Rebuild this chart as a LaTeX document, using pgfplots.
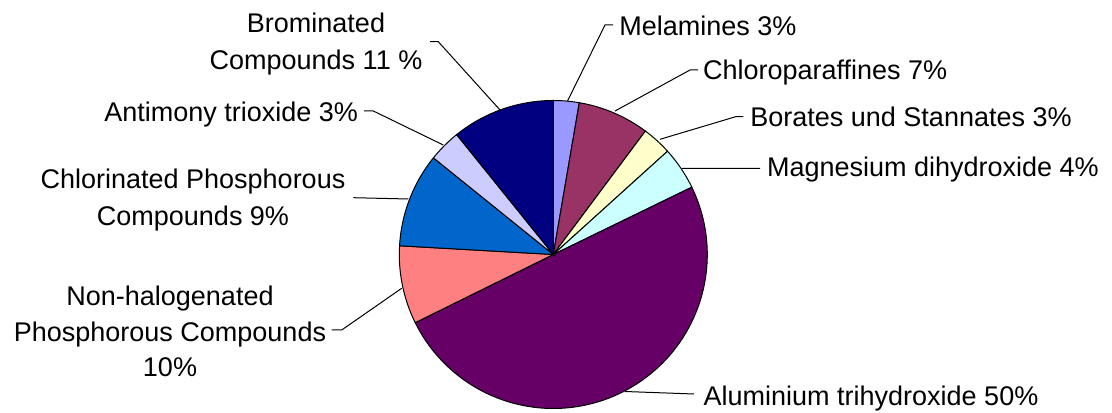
\documentclass[border=0pt]{standalone}
\usepackage{pgfplots}
\usepackage{pgfplotstable}
\pgfplotsset{compat=1.18}
\usepackage{fontspec}
\setmainfont{Liberation Sans}

\definecolor{c0}{HTML}{9999FF}
\definecolor{c1}{HTML}{993366}
\definecolor{c2}{HTML}{FFFFCC}
\definecolor{c3}{HTML}{CCFFFF}
\definecolor{c4}{HTML}{660066}
\definecolor{c5}{HTML}{FF8080}
\definecolor{c6}{HTML}{0066CC}
\definecolor{c7}{HTML}{CCCCFF}
\definecolor{c8}{HTML}{000080}

% slice shares (percent), clockwise from 12 o'clock
\pgfplotstableread{
label value
Melamines 2.7
Chloroparaffines 7.5
Borates 3.1
Magnesium 4.5
Aluminium 49.9
NonHalogenated 8.2
Chlorinated 9.9
Antimony 3.4
Brominated 10.8
}\piedata

\begin{document}
\def\cum{0}%
\pgfplotsforeachungrouped \i in {0,...,8}{%
  \pgfplotstablegetelem{\i}{value}\of\piedata
  \pgfmathsetmacro\st{90-3.6*\cum}%
  \pgfmathsetmacro\cum{\cum+\pgfplotsretval}%
  \pgfmathsetmacro\en{90-3.6*\cum}%
  \expandafter\xdef\csname pieS\i\endcsname{\st}%
  \expandafter\xdef\csname pieE\i\endcsname{\en}%
}%
\begin{tikzpicture}[font=\fontsize{13.5pt}{16pt}\selectfont]
\begin{axis}[scale only axis, width=556pt, height=206pt,
  xmin=0, xmax=1112, ymin=0, ymax=412, hide axis, clip=false]
\pgfplotsinvokeforeach{0,...,8}{
  \addplot[draw=black, line width=0.5pt, fill=c#1, mark=none,
    domain=\csname pieE#1\endcsname:\csname pieS#1\endcsname, samples=90]
    ({553.3+154*cos(x)},{157.5+154*sin(x)}) -- (553.3,157.5) -- cycle;
}
% leader lines
\addplot[black, line width=0.5pt, mark=none] coordinates {(567.5,311) (605,387) (613,387)};
\addplot[black, line width=0.5pt, mark=none] coordinates {(615,301) (690,342) (698,342)};
\addplot[black, line width=0.5pt, mark=none] coordinates {(660,272.7) (735.7,295.3) (743.3,295.3)};
\addplot[black, line width=0.5pt, mark=none] coordinates {(682,243.5) (760,243.7)};
\addplot[black, line width=0.5pt, mark=none] coordinates {(625,20.5) (694,18)};
\addplot[black, line width=0.5pt, mark=none] coordinates {(401.7,123.7) (341.7,82) (331.7,82)};
\addplot[black, line width=0.5pt, mark=none] coordinates {(408.3,213) (353.3,214.3)};
\addplot[black, line width=0.5pt, mark=none] coordinates {(443.3,267) (373.3,301) (364,301)};
\addplot[black, line width=0.5pt, mark=none] coordinates {(500,302) (438.3,370.3) (430,370.3)};
% labels
\node[anchor=base west, inner sep=0] at (619,376) {Melamines 3\%};
\node[anchor=base west, inner sep=0] at (702.7,332) {Chloroparaffines 7\%};
\node[anchor=base west, inner sep=0] at (750,285.3) {Borates und Stannates 3\%};
\node[anchor=base west, inner sep=0] at (766.7,235.3) {Magnesium dihydroxide 4\%};
\node[anchor=base west, inner sep=0] at (703.3,7) {Aluminium trihydroxide 50\%};
\node[anchor=base, inner sep=0] at (170,106) {Non-halogenated};
\node[anchor=base, inner sep=0] at (170,70.3) {Phosphorous Compounds};
\node[anchor=base, inner sep=0] at (170,35.3) {10\%};
\node[anchor=base, inner sep=0] at (193,223.7) {Chlorinated Phosphorous};
\node[anchor=base, inner sep=0] at (193,186) {Compounds 9\%};
\node[anchor=base east, inner sep=0] at (358.3,290.3) {Antimony trioxide 3\%};
\node[anchor=base, inner sep=0] at (316,379) {Brominated};
\node[anchor=base, inner sep=0] at (316,342) {Compounds 11 \%};
\end{axis}
\pgfresetboundingbox
\path[use as bounding box] (current axis.south west) rectangle (current axis.north east);
\end{tikzpicture}
\end{document}
